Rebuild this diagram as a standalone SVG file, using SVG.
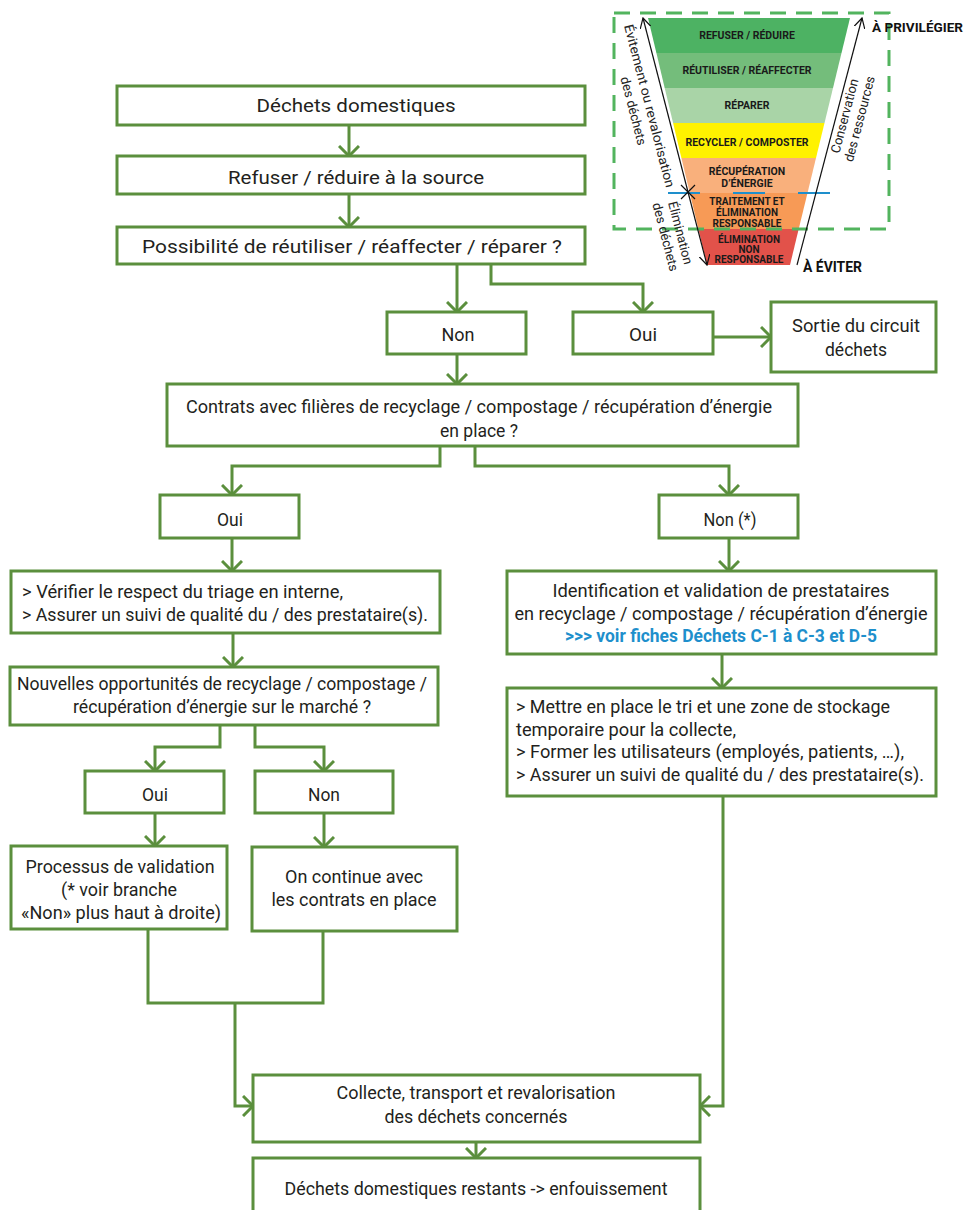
<svg xmlns="http://www.w3.org/2000/svg" width="966" height="1210" viewBox="0 0 966 1210">
<defs>
<style>
.box{fill:#fff;stroke:#5b8f3d;stroke-width:3}
.t{font-family:Roboto,"Liberation Sans",sans-serif;font-size:19px;fill:#231f20}
.c{text-anchor:middle}
.conn{fill:none;stroke:#5b8f3d;stroke-width:3}
.arr{marker-end:url(#ah)}
.fl{font-family:Roboto,"Liberation Sans",sans-serif;font-size:10.5px;font-weight:700;fill:#1a1a1a;text-anchor:middle}
.fs{font-size:10px}
.rt{font-family:Roboto,"Liberation Sans",sans-serif;font-size:13px;fill:#222;text-anchor:middle}
.ba{fill:none;stroke:#111;stroke-width:1.2}
.big{font-family:Roboto,"Liberation Sans",sans-serif;font-weight:700;fill:#111}
.link{font-weight:700;fill:#1e8fcc}
</style>
<marker id="ah" viewBox="0 0 12 22" refX="11" refY="11" markerWidth="12" markerHeight="22" markerUnits="userSpaceOnUse" orient="auto"><path d="M1,1 L11,11 L1,21" fill="none" stroke="#5b8f3d" stroke-width="3"/></marker>
<marker id="bh" viewBox="0 0 11 12" refX="10" refY="6" markerWidth="11" markerHeight="12" markerUnits="userSpaceOnUse" orient="auto"><path d="M0,0.5 L10,6 L0,11.5" fill="none" stroke="#111" stroke-width="1.2"/></marker>
</defs>

<g id="hierarchy">
<polygon points="648,18 850,18 841.5,53 656.4,53" fill="#4db263"/>
<polygon points="656.4,53 841.5,53 833,88 664.7,88" fill="#74bd7b"/>
<polygon points="664.7,88 833,88 824.5,123 673.1,123" fill="#a9d4a7"/>
<polygon points="673.1,123 824.5,123 816,158 681.4,158" fill="#fff200"/>
<polygon points="681.4,158 816,158 807.5,193 689.8,193" fill="#f9b07c"/>
<polygon points="689.8,193 807.5,193 798.7,229 698.4,229" fill="#f79a56"/>
<polygon points="698.4,229 798.7,229 790,265 707,265" fill="#e2524a"/>
<text class="fl" x="747" y="39">REFUSER / RÉDUIRE</text>
<text class="fl" x="747" y="74">RÉUTILISER / RÉAFFECTER</text>
<text class="fl" x="747" y="109">RÉPARER</text>
<text class="fl" x="747" y="146">RECYCLER / COMPOSTER</text>
<text class="fl" x="747" y="175">RÉCUPÉRATION</text>
<text class="fl" x="747" y="187">D’ÉNERGIE</text>
<text class="fl fs" x="747" y="205">TRAITEMENT ET</text>
<text class="fl fs" x="747" y="216">ÉLIMINATION</text>
<text class="fl fs" x="747" y="227">RESPONSABLE</text>
<text class="fl fs" x="749" y="243">ÉLIMINATION</text>
<text class="fl fs" x="749" y="253">NON</text>
<text class="fl fs" x="749" y="263">RESPONSABLE</text>
<line x1="668" y1="193" x2="831" y2="193" stroke="#1e8fcc" stroke-width="2" stroke-dasharray="32 33"/>
<rect x="614" y="13" width="275" height="216" fill="none" stroke="#52b45e" stroke-width="3" stroke-dasharray="16 10"/>
<path class="ba" d="M688,192 L643,18" marker-end="url(#bh)"/>
<path class="ba" d="M688,192 L707,265" marker-end="url(#bh)"/>
<path class="ba" d="M681,185 L695,199 M695,185 L681,199"/>
<path class="ba" d="M797,265 L862,18" marker-end="url(#bh)"/>
<text class="rt" transform="translate(649,106) rotate(75.5)" y="4" textLength="168" lengthAdjust="spacingAndGlyphs">Évitement ou revalorisation</text>
<text class="rt" transform="translate(633,111) rotate(75.5)" y="4">des déchets</text>
<text class="rt" transform="translate(680,233) rotate(75.5)" y="4">Élimination</text>
<text class="rt" transform="translate(665,237) rotate(75.5)" y="4">des déchets</text>
<text class="rt" transform="translate(845,116) rotate(-75.3)" y="4">Conservation</text>
<text class="rt" transform="translate(860,119) rotate(-75.3)" y="4">des ressources</text>
<text class="big" x="872" y="32" font-size="13" textLength="91" lengthAdjust="spacingAndGlyphs">À PRIVILÉGIER</text>
<text class="big" x="803" y="272" font-size="14" textLength="59" lengthAdjust="spacingAndGlyphs">À ÉVITER</text>
</g>

<g id="connectors">
<path class="conn arr" d="M349,125 V156"/>
<path class="conn arr" d="M349,194 V227"/>
<path class="conn arr" d="M457,264 V312"/>
<path class="conn arr" d="M491,264 V284 H643 V312"/>
<path class="conn arr" d="M713,337 H771"/>
<path class="conn arr" d="M457,354 V384"/>
<path class="conn arr" d="M440,446 V466 H232 V495"/>
<path class="conn arr" d="M475,446 V466 H729 V495"/>
<path class="conn arr" d="M232,538 V571"/>
<path class="conn arr" d="M729,538 V571"/>
<path class="conn arr" d="M233,633 V667"/>
<path class="conn arr" d="M722,654 V688"/>
<path class="conn arr" d="M220,725 V747 H155 V771"/>
<path class="conn arr" d="M255,725 V747 H324 V771"/>
<path class="conn arr" d="M155,813 V846"/>
<path class="conn arr" d="M324,813 V847"/>
<path class="conn" d="M148,929 V1003 H323 V931"/>
<path class="conn arr" d="M235,1003 V1106 H253"/>
<path class="conn arr" d="M723,796 V1106 H700"/>
<path class="conn arr" d="M476,1142 V1158"/>
</g>

<g id="n1"><rect class="box" x="117" y="86" width="468" height="39"/><text class="t c" x="356" y="112" font-size="20" textLength="199" lengthAdjust="spacingAndGlyphs">Déchets domestiques</text></g>
<g id="n2"><rect class="box" x="117" y="156" width="468" height="38"/><text class="t c" x="356" y="184" font-size="20" textLength="256" lengthAdjust="spacingAndGlyphs">Refuser / réduire à la source</text></g>
<g id="n3"><rect class="box" x="117" y="227" width="468" height="37"/><text class="t c" x="352" y="253" font-size="20" textLength="420" lengthAdjust="spacingAndGlyphs">Possibilité de réutiliser / réaffecter / réparer ?</text></g>
<g id="n4"><rect class="box" x="387" y="312" width="139" height="42"/><text class="t c" x="458" y="341" textLength="33" lengthAdjust="spacingAndGlyphs">Non</text></g>
<g id="n5"><rect class="box" x="573" y="312" width="140" height="42"/><text class="t c" x="643" y="341" textLength="28" lengthAdjust="spacingAndGlyphs">Oui</text></g>
<g id="n6"><rect class="box" x="771" y="302" width="165" height="70"/><text class="t c" x="856" y="332" textLength="128" lengthAdjust="spacingAndGlyphs">Sortie du circuit</text><text class="t c" x="856" y="356" textLength="62" lengthAdjust="spacingAndGlyphs">déchets</text></g>
<g id="n7"><rect class="box" x="167" y="384" width="631" height="62"/><text class="t c" x="479" y="413" textLength="586" lengthAdjust="spacingAndGlyphs">Contrats avec filières de recyclage / compostage / récupération d’énergie</text><text class="t c" x="479" y="437" textLength="78" lengthAdjust="spacingAndGlyphs">en place ?</text></g>
<g id="n8"><rect class="box" x="160" y="495" width="139" height="43"/><text class="t c" x="230" y="526" textLength="26" lengthAdjust="spacingAndGlyphs">Oui</text></g>
<g id="n9"><rect class="box" x="659" y="495" width="139" height="43"/><text class="t c" x="730" y="526" textLength="53" lengthAdjust="spacingAndGlyphs">Non (*)</text></g>
<g id="n10"><rect class="box" x="11" y="571" width="429" height="62"/><text class="t" x="22" y="598" textLength="321" lengthAdjust="spacingAndGlyphs">&gt; Vérifier le respect du triage en interne,</text><text class="t" x="22" y="621" textLength="406" lengthAdjust="spacingAndGlyphs">&gt; Assurer un suivi de qualité du / des prestataire(s).</text></g>
<g id="n11"><rect class="box" x="10" y="667" width="428" height="58"/><text class="t c" x="222" y="690" textLength="410" lengthAdjust="spacingAndGlyphs">Nouvelles opportunités de recyclage / compostage /</text><text class="t c" x="222" y="713" textLength="298" lengthAdjust="spacingAndGlyphs">récupération d’énergie sur le marché ?</text></g>
<g id="n12"><rect class="box" x="85" y="771" width="139" height="42"/><text class="t c" x="155" y="801" textLength="26" lengthAdjust="spacingAndGlyphs">Oui</text></g>
<g id="n13"><rect class="box" x="255" y="771" width="138" height="42"/><text class="t c" x="324" y="801" textLength="32" lengthAdjust="spacingAndGlyphs">Non</text></g>
<g id="n14"><rect class="box" x="11" y="846" width="216" height="83"/><text class="t c" x="120" y="873" textLength="189" lengthAdjust="spacingAndGlyphs">Processus de validation</text><text class="t c" x="119" y="896" textLength="116" lengthAdjust="spacingAndGlyphs">(* voir branche</text><text class="t c" x="121" y="919" textLength="200" lengthAdjust="spacingAndGlyphs">«Non» plus haut à droite)</text></g>
<g id="n15"><rect class="box" x="252" y="847" width="205" height="84"/><text class="t c" x="354" y="883" textLength="138" lengthAdjust="spacingAndGlyphs">On continue avec</text><text class="t c" x="354" y="906" textLength="165" lengthAdjust="spacingAndGlyphs">les contrats en place</text></g>
<g id="n16"><rect class="box" x="507" y="571" width="429" height="83"/><text class="t c" x="721" y="597" textLength="337" lengthAdjust="spacingAndGlyphs">Identification et validation de prestataires</text><text class="t c" x="721" y="620" textLength="413" lengthAdjust="spacingAndGlyphs">en recyclage / compostage / récupération d’énergie</text><text class="t c link" x="721" y="642" textLength="312" lengthAdjust="spacingAndGlyphs">&gt;&gt;&gt; voir fiches Déchets C-1 à C-3 et D-5</text></g>
<g id="n17"><rect class="box" x="507" y="688" width="429" height="108"/><text class="t" x="516" y="713" textLength="374" lengthAdjust="spacingAndGlyphs">&gt; Mettre en place le tri et une zone de stockage</text><text class="t" x="516" y="736" textLength="220" lengthAdjust="spacingAndGlyphs">temporaire pour la collecte,</text><text class="t" x="516" y="758" textLength="388" lengthAdjust="spacingAndGlyphs">&gt; Former les utilisateurs (employés, patients, …),</text><text class="t" x="516" y="781" textLength="408" lengthAdjust="spacingAndGlyphs">&gt; Assurer un suivi de qualité du / des prestataire(s).</text></g>
<g id="n18"><rect class="box" x="253" y="1075" width="447" height="67"/><text class="t c" x="476" y="1099" textLength="279" lengthAdjust="spacingAndGlyphs">Collecte, transport et revalorisation</text><text class="t c" x="476" y="1123" textLength="183" lengthAdjust="spacingAndGlyphs">des déchets concernés</text></g>
<g id="n19"><rect class="box" x="253" y="1158" width="447" height="60"/><text class="t c" x="476" y="1195" textLength="383" lengthAdjust="spacingAndGlyphs">Déchets domestiques restants -&gt; enfouissement</text></g>
</svg>
